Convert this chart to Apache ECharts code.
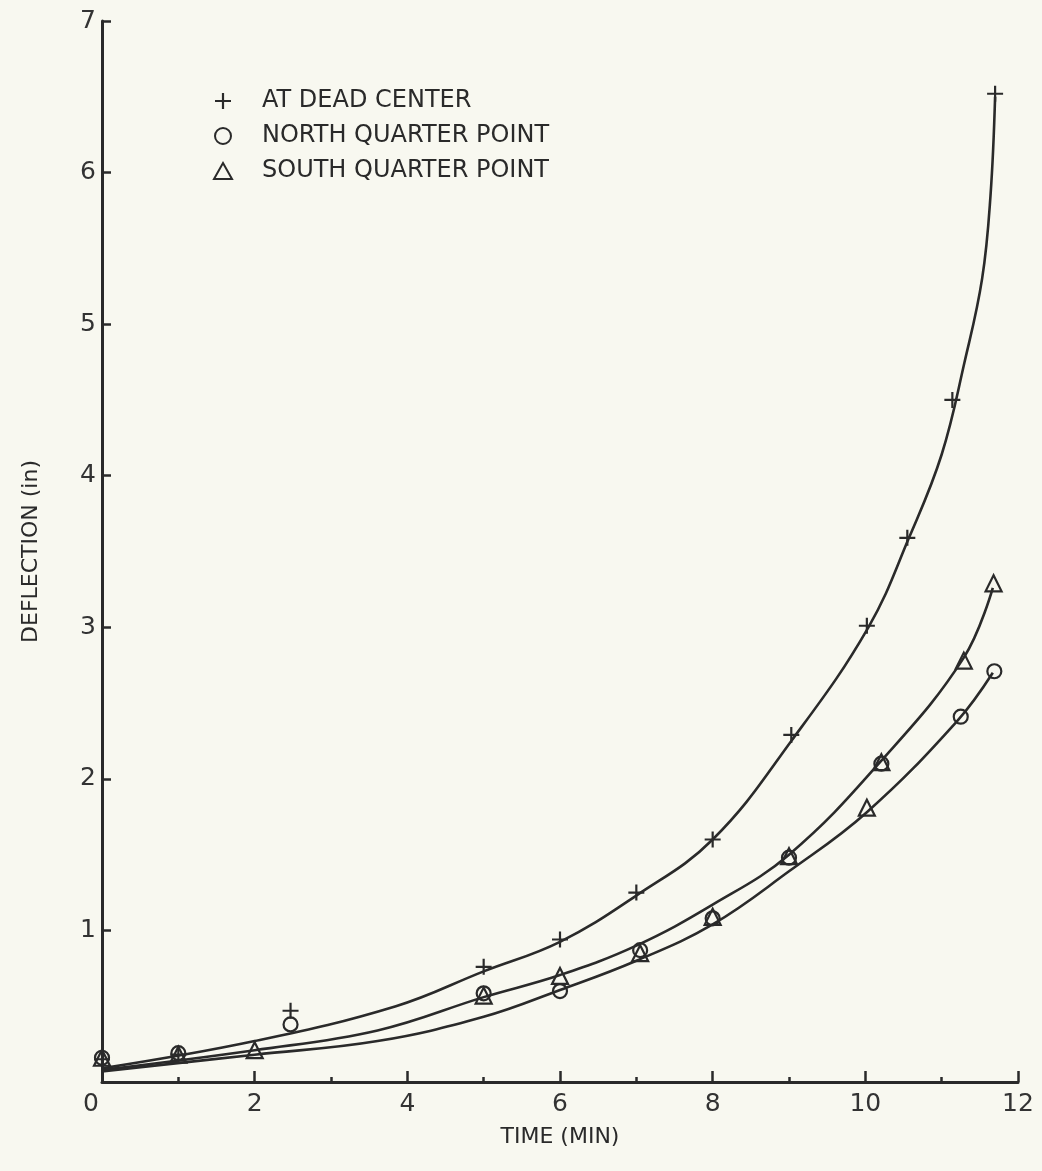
<!DOCTYPE html>
<html>
<head>
<meta charset="utf-8">
<script src="https://cdn.jsdelivr.net/npm/echarts@6/dist/echarts.min.js"></script>
<style>
html,body{margin:0;padding:0;background:#f8f8f0;}
#c{width:1042px;height:1171px;}
</style>
</head>
<body>
<div id="c"></div>
<script>
// ---- data ----
const seriesNames = ['AT DEAD CENTER', 'NORTH QUARTER POINT', 'SOUTH QUARTER POINT'];
const xTickValues = [0, 2, 4, 6, 8, 10, 12];
const yTickValues = [0, 1, 2, 3, 4, 5, 6, 7];

const centerPts = [[0,0.15],[1,0.18],[2.47,0.47],[5,0.76],[6,0.94],[7,1.25],[8,1.6],[9.03,2.29],[10.02,3.01],[10.55,3.59],[11.14,4.5],[11.7,6.52]];
const northPts = [[0,0.16],[1,0.19],[2.47,0.38],[5,0.585],[6,0.6],[7.05,0.87],[8,1.08],[9,1.48],[10.21,2.1],[11.25,2.41],[11.69,2.71]];
const southPts = [[0,0.16],[1,0.18],[2,0.21],[5,0.57],[6,0.7],[7.05,0.85],[8,1.09],[9,1.49],[10.02,1.81],[10.21,2.11],[11.29,2.78],[11.68,3.29]];

const centerCurve = [[0,0.09],[2,0.27],[3.85,0.5],[5,0.73],[6,0.925],[7,1.23],[8,1.6],[9.03,2.25],[10.04,3.0],[10.58,3.6],[11.0,4.14],[11.3,4.75],[11.53,5.3],[11.64,5.85],[11.7,6.5]];
const southCurve = [[0,0.08],[2,0.21],[3.61,0.34],[5,0.56],[6,0.706],[7,0.9],[8,1.17],[9,1.5],[10.21,2.12],[11.29,2.8],[11.67,3.26]];
const northCurve = [[0,0.07],[2,0.18],[3.61,0.27],[5,0.43],[6,0.607],[7,0.8],[8,1.04],[9,1.39],[10.02,1.78],[11.2,2.38],[11.67,2.7]];

// ---- styling ----
const ink = '#2a2a2a';
const font = 'DejaVu Sans';
const plusPath = 'path://M10,0 L10,20 M0,10 L20,10';

const chart = echarts.init(document.getElementById('c'));
const markerStyle = {color: 'transparent', borderColor: ink, borderWidth: 2.2, opacity: 1};

function curve(data) {
  return {type: 'line', data: data, smooth: 0.4, symbol: 'none',
    lineStyle: {color: ink, width: 2.6}, silent: true, z: 2};
}

chart.setOption({
  backgroundColor: '#f8f8f0',
  animation: false,
  grid: {left: 102, right: 24, top: 21, bottom: 89},
  legend: {
    orient: 'vertical', left: 208, top: 84, itemGap: 11,
    itemWidth: 18, itemHeight: 16,
    textStyle: {fontFamily: font, fontSize: 24, color: ink, padding: [0, 0, 0, 25]},
    data: [
      {name: seriesNames[0], icon: plusPath, itemStyle: {color: 'transparent', borderColor: ink, borderWidth: 2.2, opacity: 1}},
      {name: seriesNames[1], icon: 'circle', itemStyle: {color: 'transparent', borderColor: ink, borderWidth: 2, opacity: 1}},
      {name: seriesNames[2], icon: 'triangle', itemStyle: {color: 'transparent', borderColor: ink, borderWidth: 2, opacity: 1}}
    ]
  },
  xAxis: {
    type: 'value', min: 0, max: 12, interval: 2,
    name: 'TIME (MIN)', nameLocation: 'middle', nameGap: 44,
    nameTextStyle: {fontFamily: font, fontSize: 22, color: ink},
    axisLine: {lineStyle: {color: ink, width: 3}},
    axisTick: {inside: true, length: 11, lineStyle: {color: ink, width: 2.5}},
    minorTick: {show: true, splitNumber: 2, length: 5, lineStyle: {color: ink, width: 2.5}},
    splitLine: {show: false},
    axisLabel: {fontFamily: font, fontSize: 25, color: '#333', margin: 10,
      formatter: function (v) { return xTickValues.indexOf(v) === 0 ? '{z|' + v + '}' : String(v); },
      rich: {z: {fontFamily: font, fontSize: 25, color: '#333', padding: [0, 22, 0, 0]}}}
  },
  yAxis: {
    type: 'value', min: 0, max: 7, interval: 1,
    name: 'DEFLECTION (in)', nameLocation: 'middle', nameGap: 60,
    nameTextStyle: {fontFamily: font, fontSize: 22, color: ink},
    axisLine: {show: true, lineStyle: {color: ink, width: 3}},
    axisTick: {show: true, inside: true, length: 9, lineStyle: {color: ink, width: 2.5}},
    splitLine: {show: false},
    axisLabel: {fontFamily: font, fontSize: 25, color: '#333', margin: 6, showMinLabel: false,
      formatter: function (v) { return yTickValues.indexOf(v) >= 0 ? String(v) : ''; }}
  },
  series: [
    curve(centerCurve), curve(southCurve), curve(northCurve),
    {name: seriesNames[0], type: 'scatter', data: centerPts, symbol: plusPath, symbolSize: 16, itemStyle: markerStyle, z: 3},
    {name: seriesNames[1], type: 'scatter', data: northPts, symbol: 'circle', symbolSize: 14, itemStyle: markerStyle, z: 3},
    {name: seriesNames[2], type: 'scatter', data: southPts, symbol: 'triangle', symbolSize: 16, itemStyle: markerStyle, z: 3}
  ]
});
</script>
</body>
</html>
